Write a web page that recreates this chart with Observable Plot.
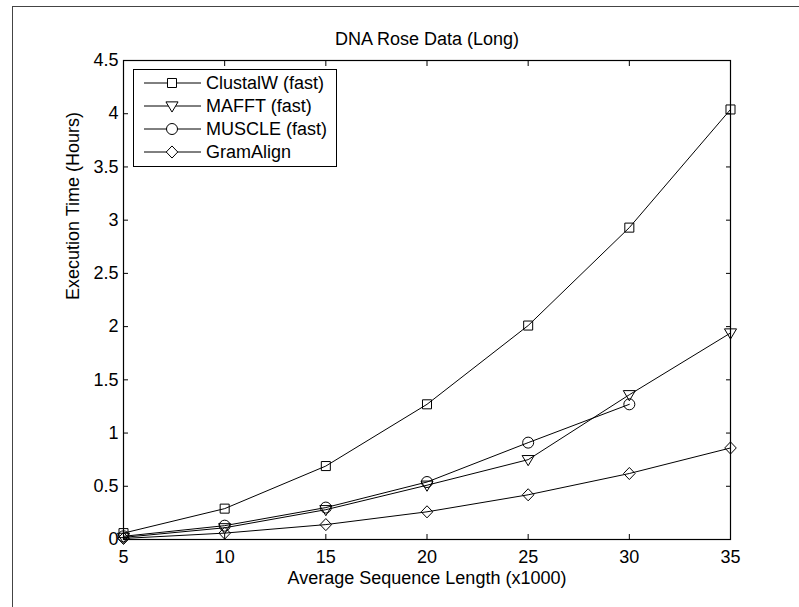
<!DOCTYPE html>
<html>
<head>
<meta charset="utf-8">
<script src="https://cdn.jsdelivr.net/npm/d3@7"></script>
<script src="https://cdn.jsdelivr.net/npm/@observablehq/plot@0.6"></script>
<style>
  html, body { margin: 0; padding: 0; background: #fff; }
  #wrap { position: relative; width: 799px; height: 607px; overflow: hidden; font-family: "Liberation Sans", Arial, sans-serif; }
  #outer { position: absolute; left: 12px; top: 6px; right: -10px; bottom: -10px; border-left: 1px solid #444; border-top: 1px solid #444; pointer-events: none; }
  #legend { position: absolute; left: 133px; top: 69px; width: 202px; height: 96px; border: 1px solid #000; background: #fff; }
  #legend svg { display: block; }
</style>
</head>
<body>
<div id="wrap"><div id="outer"></div></div>
<script>
// ---- data ----
const lengths = [5, 10, 15, 20, 25, 30, 35];
const clustalW = [0.06, 0.29, 0.69, 1.27, 2.01, 2.93, 4.04];
const mafft    = [0.02, 0.11, 0.28, 0.51, 0.75, 1.36, 1.94];
const muscle   = [0.03, 0.13, 0.30, 0.54, 0.91, 1.27];
const gramAlign = [0.01, 0.06, 0.14, 0.26, 0.42, 0.62, 0.86];
const seriesNames = ["ClustalW (fast)", "MAFFT (fast)", "MUSCLE (fast)", "GramAlign"];
const xTicks = [5, 10, 15, 20, 25, 30, 35];
const yTicks = [0, 0.5, 1, 1.5, 2, 2.5, 3, 3.5, 4, 4.5];
const titleText = "DNA Rose Data (Long)";
const xLabel = "Average Sequence Length (x1000)";
const yLabel = "Execution Time (Hours)";

// ---- marker symbols (MATLAB-like) ----
function rad(size) { return Math.sqrt(size / Math.PI); }
const symSquare = { draw(ctx, size) { const h = rad(size) * 0.82; ctx.moveTo(-h, -h); ctx.lineTo(h, -h); ctx.lineTo(h, h); ctx.lineTo(-h, h); ctx.closePath(); } };
const symCircle = { draw(ctx, size) { const r = rad(size); ctx.moveTo(r, 0); ctx.arc(0, 0, r, 0, 2 * Math.PI); ctx.closePath(); } };
const symTriDown = { draw(ctx, size) { const r = rad(size); ctx.moveTo(-1.1 * r, -0.75 * r); ctx.lineTo(1.1 * r, -0.75 * r); ctx.lineTo(0, 1.1 * r); ctx.closePath(); } };
const symDiamond = { draw(ctx, size) { const r = rad(size); const w = 1.05 * r, h = 1.1 * r; ctx.moveTo(0, -h); ctx.lineTo(w, 0); ctx.lineTo(0, h); ctx.lineTo(-w, 0); ctx.closePath(); } };
const symbols = [symSquare, symTriDown, symCircle, symDiamond];
const values = [clustalW, mafft, muscle, gramAlign];

const rows = [];
values.forEach((vals, si) => vals.forEach((v, i) => rows.push({ series: seriesNames[si], x: lengths[i], y: v, si })));

const R = 5.5;
const marks = [];
seriesNames.forEach((name, si) => {
  const d = rows.filter(r => r.si === si);
  marks.push(Plot.line(d, { x: "x", y: "y", stroke: "#000", strokeWidth: 1 }));
  marks.push(Plot.dot(d, { x: "x", y: "y", r: R, symbol: symbols[si], stroke: "#000", strokeWidth: 1, fill: "none" }));
});

const chart = Plot.plot({
  width: 799,
  height: 607,
  marginLeft: 123,
  marginRight: 69,
  marginTop: 60,
  marginBottom: 68,
  style: { fontFamily: "'Liberation Sans', Arial, sans-serif", fontSize: "18px", color: "#000", background: "transparent", overflow: "visible" },
  x: { domain: [5, 35] },
  y: { domain: [0, 4.5] },
  marks: [
    Plot.frame({ stroke: "#000", strokeWidth: 1.2 }),
    Plot.axisX(xTicks, { anchor: "bottom", tickSize: -5, tickPadding: 16, label: null, tickFormat: d => String(d), fontSize: 18, strokeWidth: 1 }),
    Plot.axisX(xTicks, { anchor: "top", tickSize: -5, label: null, tickFormat: () => "", strokeWidth: 1 }),
    Plot.axisY(yTicks, { anchor: "left", tickSize: -5, tickPadding: 10, label: null, tickFormat: d => String(d), fontSize: 18, strokeWidth: 1 }),
    Plot.axisY(yTicks, { anchor: "right", tickSize: -5, label: null, tickFormat: () => "", strokeWidth: 1 }),
    ...marks,
    Plot.text([titleText], { text: d => d, frameAnchor: "top", dy: -21, lineAnchor: "middle", fontSize: 18, fill: "#000" }),
    Plot.text([xLabel], { text: d => d, frameAnchor: "bottom", dy: 39, lineAnchor: "middle", fontSize: 18, fill: "#000" }),
    Plot.text([yLabel], { text: d => d, frameAnchor: "left", dx: -50, rotate: -90, lineAnchor: "middle", fontSize: 18, fill: "#000" })
  ]
});
chart.style.position = "absolute";
chart.style.left = "0px";
chart.style.top = "0px";
document.getElementById("wrap").appendChild(chart);

// ---- legend (MATLAB-style box inside the axes) ----
const legend = document.createElement("div");
legend.id = "legend";
document.getElementById("wrap").appendChild(legend);
const lsvg = d3.select(legend).append("svg").attr("width", 202).attr("height", 96);
seriesNames.forEach((name, si) => {
  const cy = 13 + si * 23;
  const g = lsvg.append("g").attr("transform", `translate(0,${cy})`);
  g.append("line").attr("x1", 10).attr("x2", 67).attr("y1", 0).attr("y2", 0).attr("stroke", "#000").attr("stroke-width", 1);
  g.append("path").attr("transform", "translate(38,0)")
    .attr("d", d3.symbol(symbols[si], Math.PI * R * R)())
    .attr("fill", "#fff").attr("stroke", "#000").attr("stroke-width", 1);
  g.append("text").attr("x", 72).attr("y", 0).attr("dy", "0.35em")
    .attr("font-family", "'Liberation Sans', Arial, sans-serif").attr("font-size", 18).attr("fill", "#000")
    .text(name);
});
</script>
</body>
</html>
